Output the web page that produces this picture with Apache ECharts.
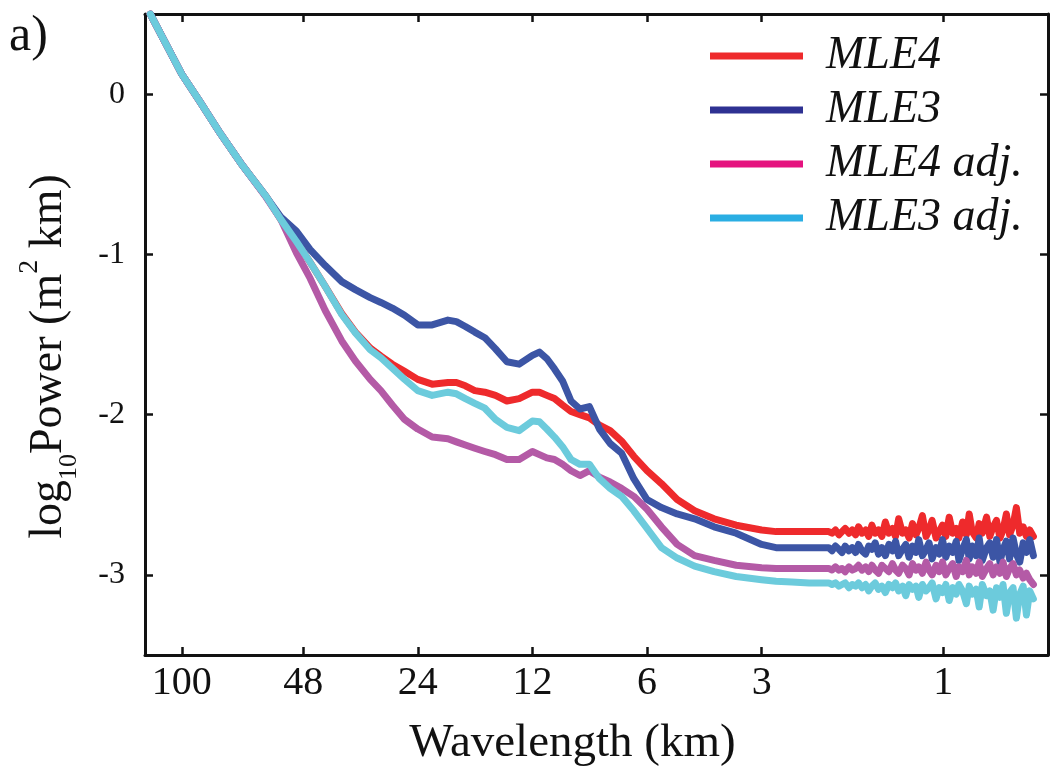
<!DOCTYPE html>
<html>
<head>
<meta charset="utf-8">
<script src="https://cdn.jsdelivr.net/npm/echarts@6/dist/echarts.min.js"></script>
<style>
html,body{margin:0;padding:0;background:#fff;}
#chart{width:1051px;height:775px;}
</style>
</head>
<body>
<div id="chart"></div>
<script>
// Wavelength (km) sample points
const wavelengths = [
  121, 100, 90, 80, 70, 60, 55, 50, 46, 42,
  38, 35, 32, 30, 28, 26, 24, 22, 20, 19,
  18, 17, 16, 15, 14, 13, 12, 11.5, 11, 10.5,
  10, 9.5, 9, 8.5, 8, 7.5, 7, 6.5, 6, 5.5,
  5, 4.5, 4, 3.5, 3, 2.75, 2.5, 2.25,
  2.00, 1.96, 1.92, 1.88, 1.845, 1.81, 1.77, 1.735, 1.70, 1.67,
  1.635, 1.60, 1.57, 1.54, 1.51, 1.48, 1.45, 1.42, 1.39, 1.36,
  1.335, 1.31, 1.28, 1.255, 1.23, 1.205, 1.18, 1.16, 1.135, 1.11,
  1.09, 1.07, 1.045, 1.025, 1.005, 0.985, 0.965, 0.945, 0.925, 0.91,
  0.89, 0.87, 0.855, 0.84, 0.82, 0.805, 0.79, 0.77, 0.755, 0.74,
  0.725, 0.71, 0.697, 0.683, 0.67, 0.656, 0.643, 0.63, 0.617, 0.605,
  0.593, 0.58
];

// log10 Power (m^2 km)
const mle4 = [
  0.50, 0.125, -0.04, -0.23, -0.43, -0.64, -0.78, -0.92, -1.05, -1.20,
  -1.37, -1.485, -1.585, -1.635, -1.685, -1.73, -1.78, -1.81, -1.80, -1.80,
  -1.82, -1.85, -1.86, -1.88, -1.915, -1.90, -1.86, -1.86, -1.88, -1.90,
  -1.94, -1.98, -2.00, -2.02, -2.065, -2.10, -2.165, -2.26, -2.35, -2.43,
  -2.53, -2.60, -2.65, -2.69, -2.72, -2.73, -2.73, -2.73,
  -2.73, -2.74, -2.72, -2.75, -2.73, -2.71, -2.74, -2.72, -2.75, -2.70,
  -2.74, -2.72, -2.76, -2.69, -2.74, -2.72, -2.76, -2.67, -2.74, -2.71,
  -2.76, -2.65, -2.74, -2.72, -2.77, -2.68, -2.75, -2.71, -2.63, -2.76,
  -2.72, -2.66, -2.77, -2.73, -2.69, -2.76, -2.64, -2.74, -2.71, -2.77,
  -2.67, -2.75, -2.62, -2.73, -2.77, -2.68, -2.74, -2.64, -2.76, -2.70,
  -2.66, -2.77, -2.72, -2.62, -2.75, -2.69, -2.58, -2.74, -2.70, -2.76,
  -2.72, -2.76
];

const mle3 = [
  0.50, 0.125, -0.04, -0.23, -0.43, -0.64, -0.765, -0.855, -0.97, -1.07,
  -1.17, -1.22, -1.27, -1.30, -1.335, -1.38, -1.44, -1.44, -1.41, -1.42,
  -1.45, -1.485, -1.52, -1.59, -1.67, -1.685, -1.63, -1.61, -1.65, -1.715,
  -1.79, -1.915, -1.965, -1.95, -2.09, -2.18, -2.24, -2.40, -2.53, -2.58,
  -2.62, -2.65, -2.70, -2.74, -2.81, -2.83, -2.83, -2.83,
  -2.83, -2.85, -2.82, -2.84, -2.86, -2.82, -2.85, -2.83, -2.86, -2.81,
  -2.85, -2.87, -2.82, -2.84, -2.80, -2.87, -2.83, -2.88, -2.81, -2.85,
  -2.79, -2.88, -2.84, -2.81, -2.89, -2.82, -2.86, -2.78, -2.88, -2.84,
  -2.80, -2.90, -2.83, -2.87, -2.78, -2.89, -2.82, -2.86, -2.79, -2.91,
  -2.84, -2.78, -2.90, -2.82, -2.88, -2.77, -2.91, -2.83, -2.80, -2.89,
  -2.78, -2.92, -2.84, -2.79, -2.90, -2.77, -2.87, -2.92, -2.80, -2.86,
  -2.78, -2.88
];

const mle4adj = [
  0.50, 0.125, -0.04, -0.23, -0.43, -0.645, -0.78, -0.99, -1.15, -1.35,
  -1.54, -1.665, -1.78, -1.85, -1.94, -2.03, -2.09, -2.14, -2.15, -2.17,
  -2.19, -2.21, -2.23, -2.25, -2.28, -2.28, -2.23, -2.25, -2.27, -2.28,
  -2.31, -2.35, -2.38, -2.35, -2.39, -2.42, -2.46, -2.51, -2.59, -2.70,
  -2.81, -2.88, -2.91, -2.94, -2.955, -2.96, -2.96, -2.96,
  -2.96, -2.97, -2.95, -2.97, -2.96, -2.98, -2.95, -2.97, -2.96, -2.94,
  -2.97, -2.95, -2.98, -2.94, -2.97, -2.99, -2.94, -2.96, -2.98, -2.93,
  -2.97, -2.99, -2.94, -2.96, -3.00, -2.93, -2.97, -2.95, -2.99, -2.92,
  -2.97, -3.00, -2.94, -2.98, -2.92, -3.00, -2.96, -2.93, -3.01, -2.95,
  -2.98, -2.91, -3.00, -2.95, -2.99, -2.92, -3.01, -2.96, -2.93, -3.00,
  -2.95, -2.99, -2.92, -3.01, -2.96, -2.93, -3.00, -2.97, -3.02, -2.99,
  -3.03, -3.06
];

const mle3adj = [
  0.50, 0.125, -0.04, -0.23, -0.43, -0.64, -0.78, -0.92, -1.05, -1.20,
  -1.375, -1.49, -1.595, -1.645, -1.71, -1.78, -1.85, -1.88, -1.86, -1.87,
  -1.90, -1.93, -1.96, -2.03, -2.08, -2.10, -2.04, -2.045, -2.09, -2.14,
  -2.20, -2.28, -2.31, -2.31, -2.40, -2.46, -2.51, -2.60, -2.71, -2.83,
  -2.895, -2.945, -2.98, -3.01, -3.03, -3.04, -3.045, -3.05,
  -3.05, -3.06, -3.05, -3.07, -3.06, -3.05, -3.08, -3.06, -3.07, -3.05,
  -3.08, -3.06, -3.10, -3.07, -3.05, -3.09, -3.07, -3.11, -3.06, -3.08,
  -3.05, -3.10, -3.07, -3.13, -3.06, -3.09, -3.07, -3.14, -3.06, -3.10,
  -3.08, -3.05, -3.15, -3.08, -3.11, -3.06, -3.16, -3.08, -3.12, -3.06,
  -3.10, -3.18, -3.07, -3.12, -3.09, -3.20, -3.06, -3.13, -3.10, -3.22,
  -3.08, -3.14, -3.06, -3.24, -3.11, -3.08, -3.27, -3.12, -3.07, -3.25,
  -3.10, -3.15
];

const seriesNames = ['MLE4', 'MLE3', 'MLE4 adj.', 'MLE3 adj.'];
const xTickLabels = [100, 48, 24, 12, 6, 3, 1];
const yTickLabels = [-3, -2, -1, 0];

const lineColors = ['#ee2a2c', '#3c55a5', '#b45aa6', '#6ccbdc'];
const legendColors = ['#ee2a2c', '#2e3192', '#e5137f', '#2aaee3'];
const FONT = 'Liberation Serif';

const allValues = [mle4, mle3, mle4adj, mle3adj];
const xTicks = xTickLabels.map(v => Math.log10(v));

const series = seriesNames.map((name, k) => ({
  name: name,
  type: 'line',
  xAxisIndex: 0,
  yAxisIndex: 0,
  symbol: 'none',
  showSymbol: false,
  animation: false,
  lineStyle: { color: lineColors[k], width: 7, join: 'round', cap: 'round' },
  itemStyle: { color: lineColors[k] },
  data: wavelengths.map((w, i) => [Math.log10(w), allValues[k][i]])
}));

const frame = { onZero: false, lineStyle: { color: '#111', width: 3 } };
const tick = { show: true, inside: true, length: 8, lineStyle: { color: '#111', width: 2.5 } };
const xMin = Math.log10(0.531), xMax = Math.log10(124.9);

const chart = echarts.init(document.getElementById('chart'), null, { renderer: 'canvas' });
chart.setOption({
  animation: false,
  backgroundColor: '#fff',
  grid: { left: 145, top: 14, right: 3, bottom: 120, containLabel: false, outerBoundsMode: 'none' },
  xAxis: [
    {
      type: 'value', position: 'bottom', min: xMin, max: xMax, inverse: true,
      axisLine: frame,
      axisTick: Object.assign({ customValues: xTicks }, tick),
      axisLabel: {
        customValues: xTicks,
        formatter: v => String(Math.round(Math.pow(10, v))),
        fontFamily: FONT, fontSize: 40, color: '#111', margin: 8
      },
      splitLine: { show: false },
      name: 'Wavelength (km)', nameLocation: 'middle', nameGap: 65,
      nameTextStyle: { fontFamily: FONT, fontSize: 47, color: '#111', padding: [0, 48, 0, 0] }
    },
    {
      type: 'value', position: 'top', min: xMin, max: xMax, inverse: true,
      axisLine: frame,
      axisTick: Object.assign({ customValues: xTicks }, tick),
      axisLabel: { show: false },
      splitLine: { show: false }
    }
  ],
  yAxis: [
    {
      type: 'value', position: 'left', min: -3.5, max: 0.5,
      axisLine: frame,
      axisTick: Object.assign({ customValues: yTickLabels }, tick),
      axisLabel: { customValues: yTickLabels, fontFamily: FONT, fontSize: 32, color: '#111', margin: 20 },
      splitLine: { show: false },
      name: '{a|log}{sub|10}{a|Power (m}{sup|2}{a| km)}',
      nameLocation: 'middle', nameGap: 63, nameRotate: 90,
      nameTextStyle: {
        fontFamily: FONT, fontSize: 46, color: '#111', padding: [0, 44, 0, 0],
        rich: {
          a: { fontFamily: FONT, fontSize: 46, color: '#111', lineHeight: 66 },
          sub: { fontFamily: FONT, fontSize: 26, color: '#111', lineHeight: 34, verticalAlign: 'bottom' },
          sup: { fontFamily: FONT, fontSize: 28, color: '#111', lineHeight: 10, verticalAlign: 'top' }
        }
      }
    },
    {
      type: 'value', position: 'right', min: -3.5, max: 0.5,
      axisLine: frame,
      axisTick: Object.assign({ customValues: yTickLabels }, tick),
      axisLabel: { show: false },
      splitLine: { show: false }
    }
  ],
  legend: {
    orient: 'vertical', left: 710, top: 33, padding: 0,
    icon: 'rect', itemWidth: 93, itemHeight: 7, itemGap: 8,
    textStyle: { fontFamily: FONT, fontStyle: 'italic', fontSize: 46, color: '#111', lineHeight: 46, padding: [0, 0, 0, 18] },
    data: seriesNames.map((n, k) => ({ name: n, itemStyle: { color: legendColors[k] } }))
  },
  graphic: [
    { type: 'text', left: 9, top: 12, style: { text: 'a)', fontFamily: FONT, fontSize: 50, fill: '#111' } }
  ],
  series: series
});
</script>
</body>
</html>
